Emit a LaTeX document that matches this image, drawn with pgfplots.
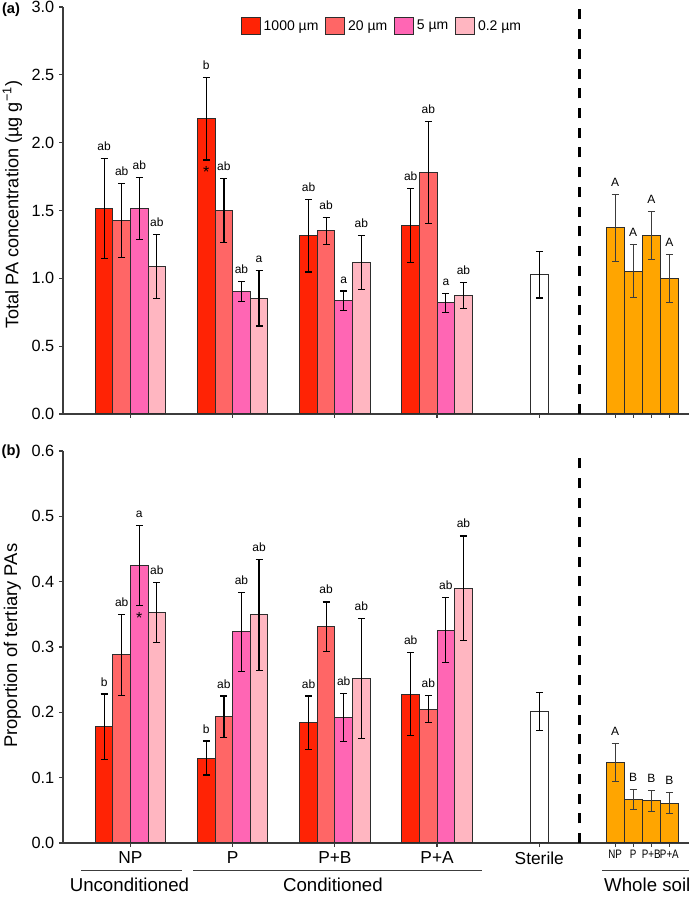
\documentclass[border=0pt]{standalone}
\usepackage{fontspec}
\setmainfont{Liberation Sans}
\usepackage{pgfplots}
\usepackage{pgfplotstable}
\pgfplotsset{compat=1.18}

\definecolor{cA}{RGB}{255,35,5}
\definecolor{cB}{RGB}{255,102,102}
\definecolor{cC}{RGB}{255,102,180}
\definecolor{cD}{RGB}{255,182,193}
\definecolor{cWS}{RGB}{255,165,0}
\definecolor{barline}{RGB}{45,45,45}
\definecolor{axline}{RGB}{60,60,60}

% panel (a): total PA, columns per filter size
\pgfplotstableread{
x ya ea la yb eb lb yc ec lc yd ed ld
1 1.515 0.367 ab 1.425 0.272 ab 1.516 0.230 ab 1.086 0.236 ab
2 2.177 0.305 b  1.500 0.237 ab 0.902 0.074 ab 0.853 0.204 a
3 1.314 0.267 ab 1.349 0.100 ab 0.833 0.073 a  1.118 0.198 ab
4 1.388 0.273 ab 1.779 0.377 ab 0.821 0.070 a  0.872 0.096 ab
}\totpa
\pgfplotstableread{
x y e
5 1.027 0.172
}\totster
\pgfplotstableread{
x y e l
5.742 1.371 0.246 A
5.919 1.054 0.198 A
6.096 1.314 0.176 A
6.273 0.997 0.178 A
}\totws

% panel (b): proportion tertiary
\pgfplotstableread{
x ya ea la yb eb lb yc ec lc yd ed ld
1 0.178 0.050 b  0.288 0.062 ab 0.425 0.061 a  0.353 0.046 ab
2 0.130 0.026 b  0.193 0.032 ab 0.323 0.061 ab 0.349 0.085 ab
3 0.184 0.041 ab 0.331 0.038 ab 0.192 0.037 ab 0.252 0.092 ab
4 0.228 0.063 ab 0.205 0.021 ab 0.326 0.050 ab 0.390 0.080 ab
}\terpa
\pgfplotstableread{
x y e
5 0.201 0.029
}\terster
\pgfplotstableread{
x y e l
5.742 0.1235 0.029 A
5.919 0.0663 0.015 B
6.096 0.0648 0.016 B
6.273 0.0612 0.016 B
}\terws

\pgfplotsset{
  sqlegend/.style={legend image code/.code={\draw[##1,draw=barline,line width=0.75pt] (0pt,-6.5pt) rectangle (14.5pt,6.5pt);}},
  ebars/.style={error bars/y dir=both, error bars/y explicit,
    error bars/error bar style={#1, line width=0.9pt},
    error bars/error mark options={rotate=90, mark size=2.6pt, line width=0.9pt, #1}},
  letters/.style={draw=none, mark=none, nodes near coords, point meta=explicit symbolic,
    every node near coord/.style={anchor=base, yshift=6pt, inner sep=0pt, font=\fontsize{9}{9}\selectfont}},
  panel/.style={scale only axis, width=469.5pt, anchor=south west,
    xmin=0.3395, xmax=6.465, axis lines*=left, clip=false,
    axis line style={axline, line width=1.1pt},
    tick style={axline, line width=0.9pt}, tick align=outside, major tick length=3pt,
    xtick={1,2,3,4,5}, extra x ticks={5.742,5.919,6.096,6.273},
    extra x tick style={grid=none},
    ytick distance=#1,
    yticklabel style={font=\fontsize{12.2}{13}\selectfont},
    /pgf/number format/fixed, /pgf/number format/fixed zerofill,
    /pgf/number format/precision=1, /pgf/number format/assume math mode=true},
}

\newcommand{\sizebars}[4]{% table, suffix, offset, colour
  \addplot[ybar, bar width=0.172, bar shift=0pt, fill=#4, draw=barline, line width=0.75pt, sqlegend, ebars=black]
    table[x expr=\thisrow{x}+#3, y=y#2, y error=e#2] {#1};
}
\newcommand{\sizeletters}[3]{%
  \addplot[letters, forget plot] table[x expr=\thisrow{x}+#3, y expr=\thisrow{y#2}+\thisrow{e#2}, meta=l#2] {#1};
}
\newcommand{\nar}[1]{\scalebox{0.8}[1]{#1}}

\begin{document}
\begin{tikzpicture}

% ---- (a) total PA concentration
\begin{axis}[panel=0.5, at={(47.25pt,362.25pt)}, height=305.25pt,
  ymin=0, ymax=3,
  xticklabels={}, extra x tick labels={},
  ylabel={Total PA concentration (µg g\textsuperscript{−1})},
  ylabel style={at={(axis description cs:-0.081,0.514)}, anchor=center, font=\fontsize{13.6}{15}\selectfont},
  legend columns=4,
  legend style={at={(axis description cs:0.51,0.953)}, anchor=center, draw=none, fill=none,
    font=\fontsize{10.5}{12}\selectfont, /tikz/every even column/.append style={column sep=3pt}},
]
\sizebars{\totpa}{a}{-0.258}{cA}
\sizebars{\totpa}{b}{-0.086}{cB}
\sizebars{\totpa}{c}{0.086}{cC}
\sizebars{\totpa}{d}{0.258}{cD}
\legend{1000 µm, 20 µm, 5 µm, 0.2 µm}
\sizeletters{\totpa}{a}{-0.258}
\sizeletters{\totpa}{b}{-0.086}
\sizeletters{\totpa}{c}{0.086}
\sizeletters{\totpa}{d}{0.258}
\addplot[ybar, bar width=0.176, bar shift=0pt, fill=white, draw=barline, line width=0.75pt, ebars=black, forget plot]
  table[x=x, y=y, y error=e] {\totster};
\addplot[ybar, bar width=0.177, bar shift=0pt, fill=cWS, draw=barline, line width=0.75pt, ebars={axline}, forget plot]
  table[x=x, y=y, y error=e] {\totws};
\addplot[letters, forget plot] table[x=x, y expr=\thisrow{y}+\thisrow{e}, meta=l] {\totws};
\node[font=\fontsize{12}{12}\selectfont] at (axis cs:1.742,1.782) {*};
\draw[black, line width=2.25pt, dash pattern=on 7.5pt off 7.3pt] (axis cs:5.398,0) -- (axis cs:5.398,3);
\node[font=\bfseries\fontsize{11}{12}\selectfont] at (axis description cs:-0.083,0.993) {(a)};
\end{axis}

% ---- (b) proportion of tertiary PAs
\begin{axis}[panel=0.1, at={(47.25pt,40.5pt)}, height=294pt,
  ymin=0, ymax=0.6,
  xticklabels={NP,P,P+B,P+A,Sterile},
  xticklabel style={font=\fontsize{13}{14}\selectfont},
  extra x tick labels={\nar{NP},\nar{P},\nar{P+B},\nar{P+A}},
  extra x tick style={xticklabel style={font=\fontsize{9.2}{10}\selectfont, yshift=1pt}},
  ylabel={Proportion of tertiary PAs},
  ylabel style={at={(axis description cs:-0.081,0.503)}, anchor=center, font=\fontsize{13.8}{15}\selectfont},
]
\sizebars{\terpa}{a}{-0.258}{cA}
\sizebars{\terpa}{b}{-0.086}{cB}
\sizebars{\terpa}{c}{0.086}{cC}
\sizebars{\terpa}{d}{0.258}{cD}
\sizeletters{\terpa}{a}{-0.258}
\sizeletters{\terpa}{b}{-0.086}
\sizeletters{\terpa}{c}{0.086}
\sizeletters{\terpa}{d}{0.258}
\addplot[ybar, bar width=0.176, bar shift=0pt, fill=white, draw=barline, line width=0.75pt, ebars=black]
  table[x=x, y=y, y error=e] {\terster};
\addplot[ybar, bar width=0.177, bar shift=0pt, fill=cWS, draw=barline, line width=0.75pt, ebars={axline}]
  table[x=x, y=y, y error=e] {\terws};
\addplot[letters] table[x=x, y expr=\thisrow{y}+\thisrow{e}, meta=l] {\terws};
\node[font=\fontsize{12}{12}\selectfont] at (axis cs:1.086,0.345) {*};
\draw[black, line width=2.25pt, dash pattern=on 7.5pt off 7.3pt] (axis cs:5.398,0) -- (axis cs:5.398,0.6);
\node[font=\bfseries\fontsize{11}{12}\selectfont] at (axis description cs:-0.083,0.997) {(b)};
% treatment groups under the axis
\draw[axline, line width=1.1pt] (axis cs:0.516,-0.0424) -- (axis cs:1.504,-0.0424);
\draw[axline, line width=1.1pt] (axis cs:1.612,-0.0424) -- (axis cs:4.440,-0.0424);
\draw[axline, line width=1.1pt] (axis cs:5.613,-0.0424) -- (axis cs:6.465,-0.0424);
\node[font=\fontsize{14}{15}\selectfont] at (axis cs:0.99,-0.0635) {Unconditioned};
\node[font=\fontsize{14}{15}\selectfont] at (axis cs:2.98,-0.0635) {Conditioned};
\node[font=\fontsize{14}{15}\selectfont, anchor=west, inner sep=0pt] at (axis cs:5.633,-0.0635) {Whole soil};
\end{axis}

\pgfresetboundingbox
\useasboundingbox (0pt,0pt) rectangle (516.75pt,672.75pt);
\end{tikzpicture}
\end{document}
